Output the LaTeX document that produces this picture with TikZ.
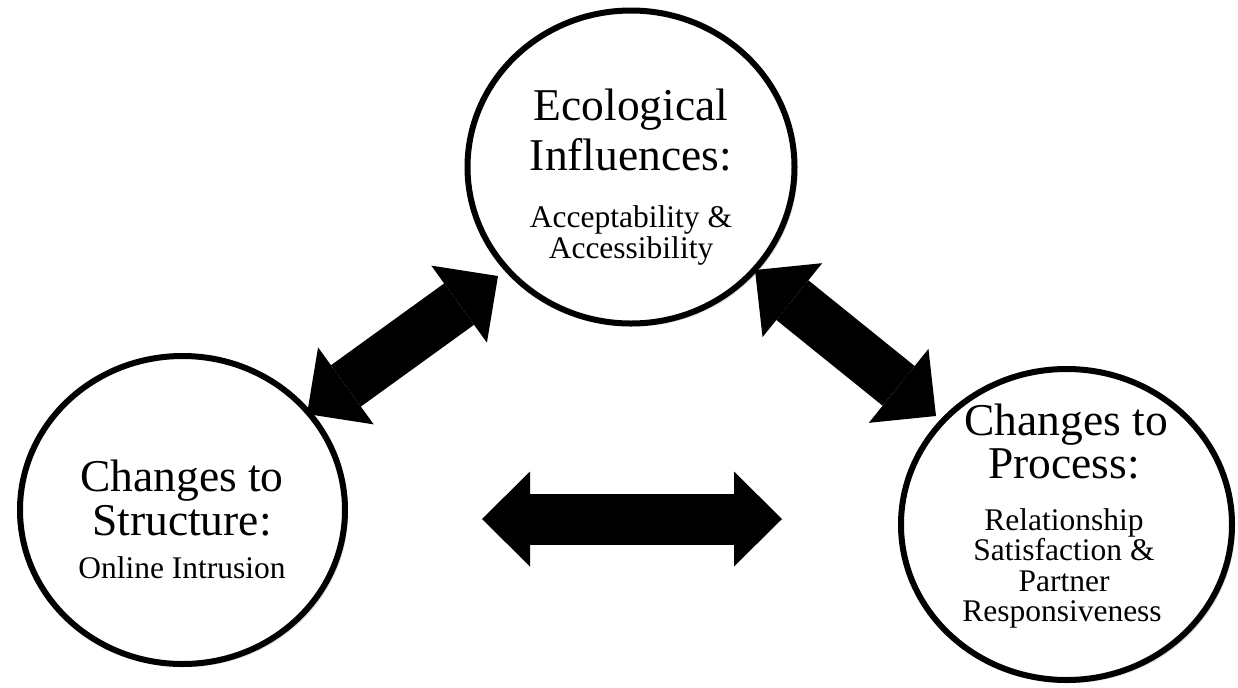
\documentclass[tikz,border=0pt]{standalone}
\usepackage{fontspec}
\setmainfont{Liberation Serif}
\usetikzlibrary{arrows.meta,shapes.geometric,shadows}
\begin{document}
\begin{tikzpicture}[x=0.5pt,y=-0.5pt,
  bubble/.style={ellipse, draw=black, line width=3pt, fill=white, inner sep=0pt,
    drop shadow={shadow xshift=1.5pt, shadow yshift=-1.5pt, opacity=0.15, fill=black}},
  bigtxt/.style={anchor=base, inner sep=0pt, font=\fontsize{22.75}{25}\selectfont},
  smalltxt/.style={anchor=base, inner sep=0pt, font=\fontsize{15.75}{16}\selectfont},
  blockarrow/.style={line width=25.5pt,
    {Triangle[length=24pt,width=47.5pt,line width=0pt]}-{Triangle[length=24pt,width=47.5pt,line width=0pt]}}]
\useasboundingbox (0,0) rectangle (1238,687);
% circles
\node[bubble, minimum width=163.5pt, minimum height=156.5pt] (T) at (631,167) {};
\node[bubble, minimum width=162.5pt, minimum height=154pt] (L) at (182.5,510) {};
\node[bubble, minimum width=165.5pt, minimum height=155.5pt] (R) at (1066.5,524.5) {};
% top text
\node[bigtxt] (T1) at (631,120) {Ecological};
\node[bigtxt] (T2) at (631,170) {Influences:};
\node[smalltxt] (T3) at (631,227) {Acceptability \&};
\node[smalltxt] (T4) at (631,258) {Accessibility};
% left text
\node[bigtxt] (L1) at (182,491) {Changes to};
\node[bigtxt] (L2) at (182,535) {Structure:};
\node[smalltxt] (L3) at (182,578) {Online Intrusion};
% right text
\node[bigtxt] (R1) at (1066,435) {Changes to};
\node[bigtxt] (R2) at (1064,478) {Process:};
\node[smalltxt] (R3) at (1064,530) {Relationship};
\node[smalltxt] (R4) at (1064,560) {Satisfaction \&};
\node[smalltxt] (R5) at (1064,591) {Partner};
\node[smalltxt] (R6) at (1062,621) {Responsiveness};
% arrow ends
\coordinate (LA) at (307,414);
\coordinate (LB) at (498,276);
\coordinate (RA) at (755,270);
\coordinate (RB) at (936,416);
\coordinate (HA) at (482,519);
\coordinate (HB) at (782,519);
\draw[blockarrow] (LA) -- (LB);
\draw[blockarrow] (RA) -- (RB);
\draw[blockarrow] (HA) -- (HB);
\end{tikzpicture}
\end{document}
